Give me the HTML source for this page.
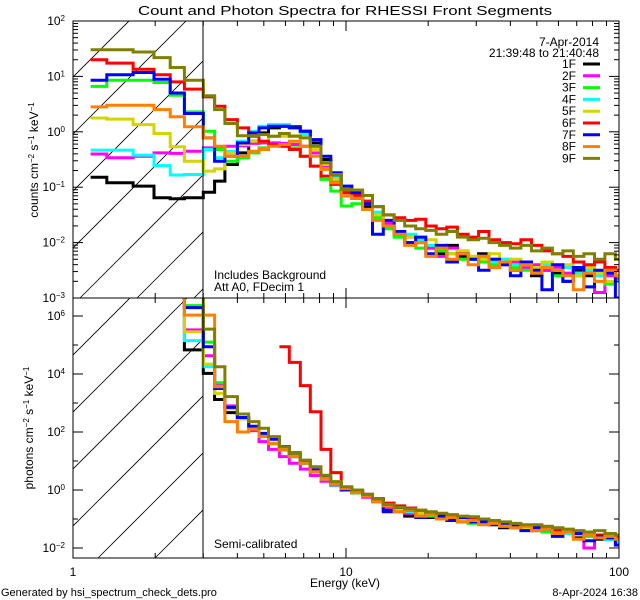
<!DOCTYPE html>
<html><head><meta charset="utf-8"><style>
html,body{margin:0;padding:0;background:#fff;}
svg{display:block;font-family:"Liberation Sans",sans-serif;}
</style></head><body>
<svg id="chart" width="640" height="600" viewBox="0 0 640 600" xmlns="http://www.w3.org/2000/svg">
<rect x="0" y="0" width="640" height="600" fill="#fff"/>
<defs>
<clipPath id="clipTop"><rect x="73" y="21" width="546" height="277"/></clipPath>
<clipPath id="clipBot"><rect x="73" y="298" width="546" height="260"/></clipPath>
<clipPath id="hatchTop"><rect x="73" y="21" width="130" height="277"/></clipPath>
<clipPath id="hatchBot"><rect x="73" y="298" width="130" height="260"/></clipPath>
</defs>
<text x="345" y="15" font-size="13" text-anchor="middle" textLength="414" lengthAdjust="spacingAndGlyphs">Count and Photon Spectra for RHESSI Front Segments</text>
<g id="hatch"></g>
<g id="seriesTop" clip-path="url(#clipTop)"></g>
<g id="seriesBot" clip-path="url(#clipBot)"></g>
<g id="axes"></g>
<line x1="203" y1="21" x2="203" y2="298" stroke="#000" stroke-width="1"/>
<line x1="203" y1="298" x2="203" y2="558" stroke="#000" stroke-width="1"/>
<rect x="73" y="21" width="546" height="277" fill="none" stroke="#000" stroke-width="1"/>
<rect x="73" y="298" width="546" height="260" fill="none" stroke="#000" stroke-width="1"/>
<text x="214" y="279" font-size="12">Includes Background</text>
<text x="214" y="291" font-size="12">Att A0, FDecim 1</text>
<text x="214" y="548" font-size="12">Semi-calibrated</text>
<text x="599" y="46" font-size="12" text-anchor="end">7-Apr-2014</text>
<text x="599" y="57" font-size="12" text-anchor="end">21:39:48 to 21:40:48</text>
<g id="legend"></g>
<text x="345" y="587" font-size="12" text-anchor="middle">Energy (keV)</text>
<text x="1" y="596" font-size="11">Generated by hsi_spectrum_check_dets.pro</text>
<text x="638" y="596" font-size="11" text-anchor="end">8-Apr-2024 16:38</text>
<text transform="translate(38,160) rotate(-90)" font-size="12" text-anchor="middle">counts cm<tspan baseline-shift="super" font-size="8">−2</tspan> s<tspan baseline-shift="super" font-size="8">−1</tspan> keV<tspan baseline-shift="super" font-size="8">−1</tspan></text>
<text transform="translate(33,428) rotate(-90)" font-size="12" text-anchor="middle">photons cm<tspan baseline-shift="super" font-size="8">−2</tspan> s<tspan baseline-shift="super" font-size="8">−1</tspan> keV<tspan baseline-shift="super" font-size="8">−1</tspan></text>
</svg>
<script>
// ---- data (log10 values) ----
const energyEdges = [1.16,1.33,1.66,1.98,2.27,2.56,3.0,3.3,3.6,4.0,4.4,4.8,5.2,5.7,6.2,6.8,7.4,8.1,8.8,9.6,10.5,11.5,12.5,13.7,15,16.4,18,19.6,21.4,23.4,25.6,28,30.6,33.4,36.5,40,43.7,47.8,52.2,57,62.3,68,74.4,81.3,88.8,97,100];
const segmentNames = ["1F","2F","3F","4F","5F","6F","7F","8F","9F"];
const segmentColors = ["#000000","#ff00ff","#00ff00","#00ffff","#d4d400","#ff0000","#0000ff","#ff8000","#808000"];
const xTickValues = [1,10,100];
const xTickLabels = ["1","10","100"];
const topYTickExps = [2,1,0,-1,-2,-3];
const botYTickExps = [6,4,2,0,-2];

const logCounts1F = [-0.82,-0.92,-0.98,-1.19,-1.21,-1.19, -1.09,-0.89,-0.59,-0.38,-0.17,-0.02,0.07,0.10,0.09,0.01,-0.20,-0.50,-0.80,-1.04, -1.2,-1.35,-1.55,-1.7,-1.85,-2.0,-1.95,-2.1,-2.2,-2.05,-2.25,-2.3,-2.2,-2.4,-2.35,-2.5,-2.4,-2.6,-2.5,-2.55,-2.7,-2.5,-2.6,-2.55,-2.45,-2.5];
const logCounts2F = [-0.40,-0.47,-0.44,-0.38,-0.39,-0.35, -0.29,-0.27,-0.26,-0.25,-0.21,-0.20,-0.20,-0.21,-0.23,-0.26,-0.38,-0.62,-0.89,-1.07, -1.15,-1.3,-1.5,-1.65,-1.8,-1.9,-2.0,-2.1,-2.25,-2.1,-2.2,-2.3,-2.25,-2.3,-2.4,-2.35,-2.45,-2.4,-2.5,-2.45,-2.55,-2.6,-2.55,-2.9,-2.6,-2.65];
const logCounts3F = [0.82,0.93,0.93,0.89,0.66,0.36, 0.01,-0.32,-0.53,-0.47,-0.38,-0.29,-0.23,-0.26,-0.29,-0.44,-0.62,-0.86,-1.07,-1.34, -1.3,-1.4,-1.55,-1.75,-1.9,-2.0,-2.1,-2.05,-2.15,-2.2,-2.3,-2.25,-2.35,-2.4,-2.3,-2.45,-2.5,-2.55,-2.45,-2.6,-2.7,-2.55,-2.8,-2.6,-2.75,-2.7];
const logCounts4F = [-0.33,-0.33,-0.42,-0.61,-0.78,-0.77, -0.32,-0.47,-0.35,-0.17,0.01,0.10,0.13,0.13,0.07,-0.05,-0.26,-0.56,-0.83,-0.98, -1.1,-1.25,-1.45,-1.7,-1.8,-1.85,-1.95,-2.05,-2.1,-2.2,-2.15,-2.3,-2.25,-2.35,-2.3,-2.4,-2.35,-2.45,-2.4,-2.5,-2.45,-2.55,-2.5,-2.6,-2.55,-2.7];
const logCounts5F = [0.25,0.23,0.13,-0.03,-0.27,-0.53, -0.71,-0.67,-0.38,-0.23,-0.17,-0.17,-0.08,-0.08,-0.07,-0.11,-0.32,-0.59,-0.86,-1.10, -1.1,-1.3,-1.5,-1.7,-1.8,-1.9,-2.0,-1.95,-2.1,-2.2,-2.15,-2.25,-2.3,-2.2,-2.35,-2.3,-2.4,-2.45,-2.35,-2.5,-2.4,-2.6,-2.45,-2.55,-2.7,-2.6];
const logCounts6F = [1.30,1.24,1.13,1.03,0.90,0.77, 0.63,0.46,0.22,0.07,-0.08,-0.17,-0.23,-0.26,-0.32,-0.44,-0.62,-0.80,-0.95,-1.10, -1.15,-1.25,-1.35,-1.5,-1.55,-1.6,-1.58,-1.7,-1.75,-1.72,-1.85,-1.9,-1.8,-1.95,-2.0,-2.02,-1.95,-2.05,-2.15,-2.2,-2.25,-2.35,-2.4,-2.35,-2.45,-2.5];
const logCounts7F = [0.93,1.03,1.07,0.95,0.70,0.33, -0.11,-0.53,-0.44,-0.20,-0.02,0.07,0.10,0.10,0.07,0.01,-0.14,-0.44,-0.74,-0.98, -1.1,-1.3,-1.85,-1.6,-1.8,-2.0,-1.9,-2.2,-2.05,-2.35,-2.2,-2.3,-2.5,-2.3,-2.4,-2.6,-2.35,-2.5,-2.85,-2.4,-2.7,-2.45,-2.8,-2.5,-2.55,-3.0];
const logCounts8F = [0.45,0.48,0.48,0.40,0.27,0.09, -0.11,-0.26,-0.44,-0.44,-0.35,-0.32,-0.26,-0.23,-0.17,-0.26,-0.44,-0.68,-0.92,-1.16, -1.2,-1.4,-1.6,-1.7,-1.85,-2.05,-2.0,-2.25,-2.1,-2.3,-2.2,-2.4,-2.25,-2.45,-2.35,-2.5,-2.4,-2.55,-2.45,-2.5,-2.6,-2.85,-2.55,-2.7,-2.5,-2.6];
const logCounts9F = [1.48,1.48,1.44,1.34,1.16,0.93, 0.65,0.40,0.15,-0.07,-0.07,-0.05,-0.08,-0.03,-0.08,-0.11,-0.26,-0.56,-0.77,-1.04, -1.05,-1.15,-1.35,-1.5,-1.6,-1.7,-1.75,-1.78,-1.85,-1.8,-1.9,-1.95,-1.92,-2.0,-2.05,-2.1,-2.05,-2.15,-2.1,-2.2,-2.15,-2.25,-2.2,-2.3,-2.2,-2.3];

const logPhotons1F = [7,7,7,7,7,4.83, 4.02,3.12,2.67,2.45,2.15,1.85,1.6,1.4,1.15,0.92,0.63,0.4,0.22,0.05, -0.1,-0.2,-0.4,-0.7,-0.65,-0.9,-0.8,-0.95,-0.9,-1.0,-1.1,-1.05,-1.15,-1.1,-1.3,-1.25,-1.3,-1.4,-1.35,-1.5,-1.45,-1.6,-1.55,-1.7,-1.65,-1.75];
const logPhotons2F = [7,7,7,7,7,5.52, 4.63,3.64,2.9,2.45,2.05,1.67,1.4,1.15,0.92,0.72,0.5,0.3,0.15,0.0, -0.1,-0.25,-0.4,-0.6,-0.75,-0.8,-0.9,-0.85,-0.95,-1.0,-1.1,-1.1,-1.15,-1.2,-1.2,-1.3,-1.3,-1.35,-1.4,-1.45,-1.5,-1.55,-2.0,-1.65,-1.7,-1.8];
const logPhotons3F = [7,7,7,7,7,6.36, 5.1,3.7,2.85,2.5,2.15,1.85,1.62,1.4,1.17,0.93,0.63,0.4,0.22,0.03, -0.1,-0.2,-0.35,-0.55,-0.7,-0.75,-0.85,-0.9,-0.95,-1.0,-1.05,-1.15,-1.1,-1.2,-1.25,-1.3,-1.25,-1.35,-1.45,-1.4,-1.5,-1.55,-1.6,-1.6,-1.7,-1.7];
const logPhotons4F = [7,7,7,7,7,5.15, 4.25,3.56,2.82,2.45,2.12,1.85,1.62,1.4,1.15,0.92,0.62,0.38,0.17,0.0, -0.05,-0.2,-0.35,-0.55,-0.65,-0.75,-0.8,-0.85,-0.95,-1.0,-0.95,-1.05,-1.1,-1.15,-1.2,-1.25,-1.3,-1.3,-1.35,-1.4,-1.5,-1.5,-1.55,-1.6,-1.7,-1.8];
const logPhotons5F = [7,7,7,7,7,5.45, 4.34,3.33,2.8,2.45,2.15,1.85,1.62,1.42,1.18,0.93,0.63,0.38,0.22,0.05, -0.05,-0.2,-0.35,-0.5,-0.65,-0.7,-0.8,-0.85,-0.9,-0.95,-1.05,-1.0,-1.1,-1.15,-1.2,-1.2,-1.3,-1.35,-1.3,-1.4,-1.45,-1.55,-1.5,-1.6,-1.65,-1.7];
const logPhotons6F = [null,null,null,null,null,null, null,null,null,null,null,null,null,4.94,4.4,3.6,2.7,1.4,0.6,0.1, -0.05,-0.15,-0.3,-0.45,-0.55,-0.62,-0.7,-0.78,-0.82,-0.9,-0.92,-1.0,-1.05,-1.05,-1.12,-1.2,-1.22,-1.28,-1.3,-1.38,-1.45,-1.45,-1.5,-1.55,-1.6,-1.65];
const logPhotons7F = [7,7,7,7,7,6.29, 4.94,3.5,2.85,2.5,2.2,1.95,1.75,1.5,1.28,1.0,0.7,0.42,0.2,0.0, 0.0,-0.15,-0.3,-0.75,-0.6,-0.7,-0.95,-0.8,-0.9,-1.05,-0.95,-1.1,-1.1,-1.2,-1.15,-1.25,-1.4,-1.3,-1.35,-1.6,-1.45,-1.5,-1.75,-1.6,-1.65,-1.9];
const logPhotons8F = [7,7,7,7,7,6.03, 6.03,3.56,2.36,2.0,2.1,1.85,1.6,1.38,1.15,0.92,0.63,0.4,0.2,0.05, -0.05,-0.2,-0.4,-0.55,-0.75,-0.7,-0.9,-0.85,-1.0,-0.95,-1.1,-1.05,-1.2,-1.15,-1.25,-1.3,-1.25,-1.4,-1.35,-1.5,-1.45,-1.7,-1.55,-1.65,-1.6,-1.7];
const logPhotons9F = [7,7,7,7,7,7, 5.55,4.25,3.22,2.62,2.36,2.13,1.84,1.49,1.26,1.03,0.80,0.51,0.29,0.11, 0.0,-0.15,-0.3,-0.5,-0.6,-0.65,-0.7,-0.75,-0.8,-0.85,-0.9,-0.92,-1.0,-1.05,-1.1,-1.15,-1.2,-1.2,-1.25,-1.3,-1.35,-1.4,-1.45,-1.4,-1.5,-1.55];

const countSeries = [logCounts1F,logCounts2F,logCounts3F,logCounts4F,logCounts5F,logCounts6F,logCounts7F,logCounts8F,logCounts9F];
const photonSeries = [logPhotons1F,logPhotons2F,logPhotons3F,logPhotons4F,logPhotons5F,logPhotons6F,logPhotons7F,logPhotons8F,logPhotons9F];

// ---- axes ----
const NS = "http://www.w3.org/2000/svg";
const X0 = 73, X1 = 619, TY0 = 21, TY1 = 298, BY0 = 298, BY1 = 558;
function xScale(e){ return X0 + (X1 - X0) * Math.log10(e) / 2; }
function yTop(l){ return TY0 + (2 - l) * (TY1 - TY0) / 5; }
function yBot(l){ return 490 - 29 * l; }
function mk(tag, attrs, parent){
  const el = document.createElementNS(NS, tag);
  for (const k in attrs) el.setAttribute(k, attrs[k]);
  parent.appendChild(el); return el;
}

// hatching
const hatch = document.getElementById('hatch');
const hT = mk('g', {'clip-path':'url(#hatchTop)'}, hatch);


for (let x0 = 80 - 57*6; x0 <= 420; x0 += 57) {
  const l = mk('line', {x1:x0, y1:298, x2:x0+300, y2:-2, stroke:'#000', 'stroke-width':0.8}, hT);
  
  
}
const hB = mk('g', {'clip-path':'url(#hatchBot)'}, hatch);


for (let x0 = 98 - 57*6; x0 <= 420; x0 += 57) {
  const l = mk('line', {x1:x0, y1:558, x2:x0+300, y2:258, stroke:'#000', 'stroke-width':0.8}, hB);
  
  
}

// series
function drawSteps(group, vals, yfn, color, name){
  let d = '', open = false;
  for (let i = 0; i < vals.length; i++) {
    const v = vals[i];
    if (v === null) { open = false; continue; }
    const xa = xScale(energyEdges[i]).toFixed(1), xb = xScale(energyEdges[i+1]).toFixed(1), y = yfn(v).toFixed(1);
    if (!open) { d += 'M' + xa + ',' + y; open = true; } else { d += 'V' + y; }
    d += 'H' + xb;
  }
  const p = mk('path', {d:d, fill:'none', stroke:color, 'stroke-width':3, 'stroke-linejoin':'miter'}, group);
  
  
}
const gT = document.getElementById('seriesTop');


const gB = document.getElementById('seriesBot');


countSeries.forEach((s, i) => drawSteps(gT, s, yTop, segmentColors[i], 'count-series-' + segmentNames[i].toLowerCase()));
photonSeries.forEach((s, i) => drawSteps(gB, s, yBot, segmentColors[i], 'photon-series-' + segmentNames[i].toLowerCase()));

// ticks
const axes = document.getElementById('axes');


function tick(x1,y1,x2,y2){
  const t = mk('line', {x1:x1, y1:y1, x2:x2, y2:y2, stroke:'#000', 'stroke-width':1}, axes);
  
  
}
for (let dec = 1; dec <= 100; dec *= 10) {
  for (let m = 1; m <= 9; m++) {
    const e = dec * m; if (e > 100) break;
    const x = xScale(e), L = (m === 1) ? 10 : 5;
    tick(x, TY0, x, TY0 + L); tick(x, TY1, x, TY1 - L);
    tick(x, BY0, x, BY0 + L); tick(x, BY1, x, BY1 - L);
  }
}
xTickValues.forEach((v, i) => {
  const t = mk('text', {x:xScale(v), y:576, 'font-size':12, 'text-anchor':'middle'}, axes);
  t.textContent = xTickLabels[i];
  
  
});
for (let p = -3; p <= 2; p++) {
  for (let m = 1; m <= 9; m++) {
    const l = p + Math.log10(m); if (l > 2) break;
    const y = yTop(l), L = (m === 1) ? 10 : 5;
    tick(X0, y, X0 + L, y); tick(X1, y, X1 - L, y);
  }
}
for (let p = -2; p <= 6; p++) {
  const y = yBot(p), L = (p % 2 === 0) ? 10 : 5;
  tick(X0, y, X0 + L, y); tick(X1, y, X1 - L, y);
}
function expLabel(exp, y, name){
  const t = mk('text', {x:65, y:y + 4, 'font-size':12, 'text-anchor':'end'}, axes);
  
  
  t.appendChild(document.createTextNode('10'));
  const s = document.createElementNS(NS, 'tspan');
  s.setAttribute('baseline-shift', 'super'); s.setAttribute('font-size', '8');
  s.textContent = exp < 0 ? '−' + (-exp) : String(exp);
  t.appendChild(s);
}
topYTickExps.forEach(e => expLabel(e, yTop(e), 'top-y-tick-label'));
botYTickExps.forEach(e => expLabel(e, yBot(e), 'bottom-y-tick-label'));

// legend
const lg = document.getElementById('legend');
segmentNames.forEach((n, i) => {
  const y = 64 + i * 11.8;
  const t = mk('text', {x:576, y:y + 4, 'font-size':12, 'text-anchor':'end'}, lg);
  t.textContent = n;
  
  
  const l = mk('line', {x1:583, y1:y, x2:600, y2:y, stroke:segmentColors[i], 'stroke-width':3}, lg);
  
  
});
</script>
</body></html>
